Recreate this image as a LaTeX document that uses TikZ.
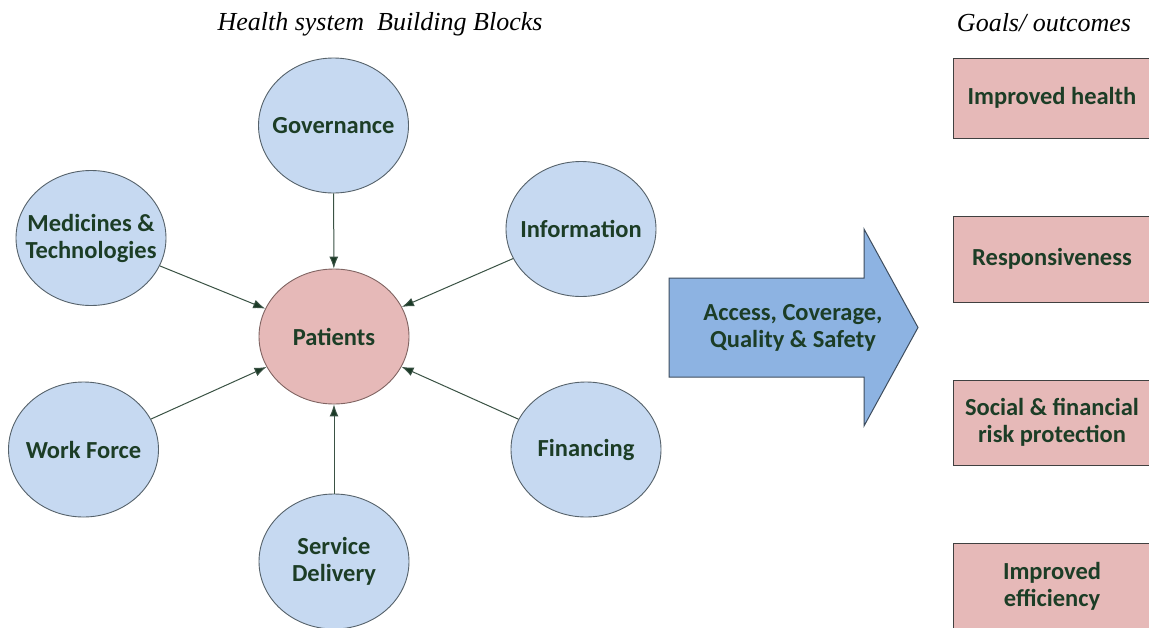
\documentclass[tikz,border=0pt]{standalone}
\usepackage{fontspec}
\setmainfont{Carlito}
\newfontfamily\titlefont{Liberation Serif}
\usetikzlibrary{shapes.geometric,arrows.meta}
\definecolor{bluefill}{HTML}{C6D9F1}
\definecolor{pinkfill}{HTML}{E6B9B8}
\definecolor{circborder}{HTML}{56626B}
\definecolor{pinkborder}{HTML}{806462}
\definecolor{txtgreen}{HTML}{1C3D26}
\definecolor{linkcol}{HTML}{3A5244}
\definecolor{headcol}{HTML}{1A3A26}
\definecolor{arrowfill}{HTML}{8DB3E2}
\definecolor{arrowborder}{HTML}{3E4D5E}
\definecolor{boxborder}{HTML}{404040}
\begin{document}
\begin{tikzpicture}[x=1pt,y=-1pt,
  bigfont/.style={font=\bfseries\fontsize{24.5}{27}\selectfont, text=txtgreen, align=center},
  block/.style={ellipse, draw=circborder, fill=bluefill, line width=0.9pt,
                minimum width=150pt, minimum height=135pt, inner sep=0pt},
  patient/.style={block, draw=pinkborder, fill=pinkfill},
  lbl/.style={bigfont},
  goal/.style={rectangle, draw=boxborder, fill=pinkfill, line width=1pt,
               minimum width=198pt, inner sep=0pt, bigfont},
  link/.style={draw=linkcol, line width=1pt, -{Latex[length=12pt,width=9pt,fill=headcol]}},
  titletext/.style={font=\titlefont\itshape\fontsize{26}{30}\selectfont, text=black, anchor=base, inner sep=0pt}
]
\useasboundingbox (0,0) rectangle (1149,627);
\fill[white] (0,0) rectangle (1149,627);

% titles
\node[titletext] (t1) at (380,30) {Health system\ \ Building Blocks};
\node[titletext] (t2) at (1044,31) {Goals/ outcomes};

% building blocks
\node[patient, label={[lbl]center:Patients}] (pat) at (334,336.5) {};
\node[block, label={[lbl]center:Governance}] (gov) at (333.5,125.5) {};
\node[block, label={[lbl]center:Medicines \&\\Technologies}] (med) at (91,238) {};
\node[block, label={[lbl]center:Information}] (inf) at (581,229) {};
\node[block, label={[lbl]center:Work Force}] (wf) at (83.5,449.5) {};
\node[block, label={[lbl]center:Financing}] (fin) at (586,449.5) {};
\node[block, label={[lbl]center:Service\\Delivery}] (sd) at (334,561.5) {};

\draw[link] (gov) -- (pat);
\draw[link] (med) -- (pat);
\draw[link] (inf) -- (pat);
\draw[link] (wf) -- (pat);
\draw[link] (fin) -- (pat);
\draw[link] (sd) -- (pat);

% big arrow
\draw[fill=arrowfill, draw=arrowborder, line width=1pt, line join=miter]
  (669,278) -- (864,278) -- (864,229) -- (918,327.5) -- (864,426) -- (864,377) -- (669,377) -- cycle;
\node[bigfont] (acc) at (793,327.5) {Access, Coverage,\\Quality \& Safety};

% goals
\node[goal, minimum height=80pt] (g1) at (1052,98) {Improved health};
\node[goal, minimum height=86pt] (g2) at (1052,259) {Responsiveness};
\node[goal, minimum height=85pt] (g3) at (1052,422.5) {Social \& financial\\risk protection};
\node[goal, minimum height=86pt] (g4) at (1052,586) {Improved\\efficiency};
\end{tikzpicture}
\end{document}
